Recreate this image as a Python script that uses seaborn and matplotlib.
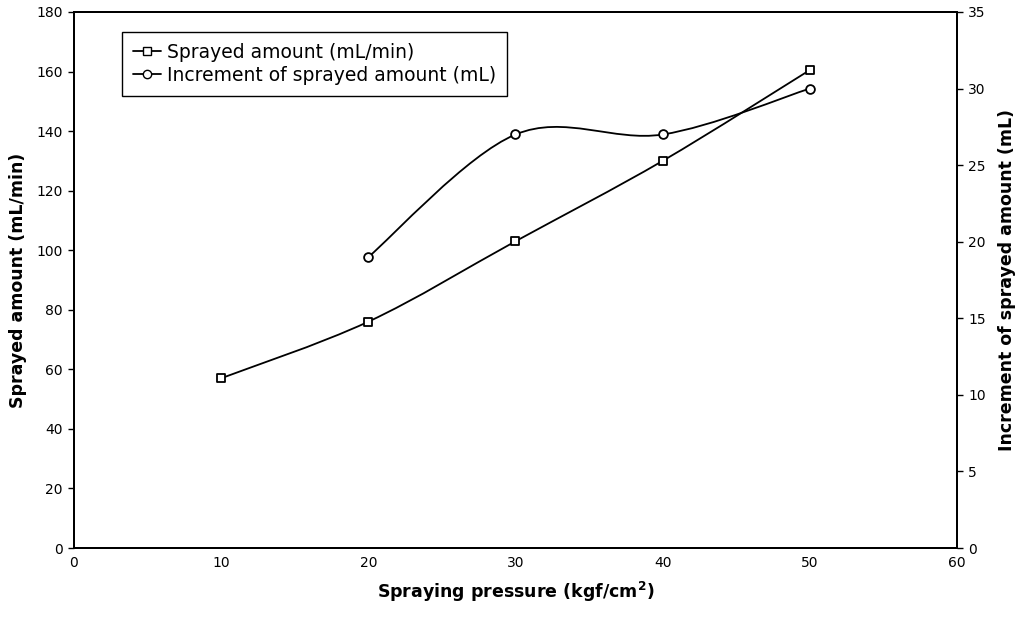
import numpy as np
import pandas as pd
import matplotlib
matplotlib.use("Agg")
import matplotlib.pyplot as plt
import seaborn as sns
from matplotlib.path import Path
from matplotlib.patches import PathPatch
from matplotlib.lines import Line2D

# =====================================
# DATA
# =====================================

pressure = [10, 20, 30, 40, 50]
sprayed = [57, 76, 103, 130, 160.5]

pressure_inc = [20, 30, 40, 50]
increment = [19, 27, 27, 30]

x_ticks = [0, 10, 20, 30, 40, 50, 60]
left_ticks = [0, 20, 40, 60, 80, 100, 120, 140, 160, 180]
right_ticks = [0, 5, 10, 15, 20, 25, 30, 35]

label_sprayed = "Sprayed amount (mL/min)"
label_increment = "Increment of sprayed amount (mL)"


# =====================================
# STYLE
# =====================================

sns.set_style("white")
plt.rcParams["font.family"] = ["DejaVu Sans"]
plt.rcParams["text.color"] = "black"
plt.rcParams["axes.labelcolor"] = "black"
plt.rcParams["mathtext.default"] = "regular"


def smooth_path(xs, ys):
    # excel-like smoothed line: cubic bezier through the points
    pts = np.column_stack([xs, ys]).astype(float)
    n = len(pts)
    verts = [pts[0]]
    codes = [Path.MOVETO]
    for i in range(n - 1):
        p0 = pts[i - 1] if i > 0 else pts[i]
        p1 = pts[i]
        p2 = pts[i + 1]
        p3 = pts[i + 2] if i + 2 < n else pts[i + 1]
        c1 = p1 + (p2 - p0) / 6
        c2 = p2 - (p3 - p1) / 6
        verts += [c1, c2, p2]
        codes += [Path.CURVE4] * 3
    return Path(verts, codes)


fig = plt.figure(figsize=(10.23, 6.17), dpi=100)
ax = fig.add_axes([0.0723, 0.1118, 0.8632, 0.8688])
ax2 = ax.twinx()

df1 = pd.DataFrame({"pressure": pressure, "value": sprayed})
df2 = pd.DataFrame({"pressure": pressure_inc, "value": increment})

ax.add_patch(PathPatch(smooth_path(pressure, sprayed), fill=False,
                       edgecolor="black", lw=1.3, zorder=2))
ax2.add_patch(PathPatch(smooth_path(pressure_inc, increment), fill=False,
                        edgecolor="black", lw=1.3, zorder=2))

sns.scatterplot(data=df1, x="pressure", y="value", ax=ax, marker="s",
                s=40, facecolor="white", edgecolor="black", linewidth=1.3,
                zorder=3)
sns.scatterplot(data=df2, x="pressure", y="value", ax=ax2, marker="o",
                s=40, facecolor="white", edgecolor="black", linewidth=1.3,
                zorder=3)

ax.set_xlim(0, 60)
ax.set_ylim(0, 180)
ax2.set_ylim(0, 35)
ax.set_xticks(x_ticks)
ax.set_yticks(left_ticks)
ax2.set_yticks(right_ticks)

for a in (ax, ax2):
    for s in a.spines.values():
        s.set_visible(True)
        s.set_color("black")
        s.set_linewidth(1.4)

ax.tick_params(axis="x", direction="in", length=4, width=1, colors="black",
               labelsize=10, pad=6)
ax.tick_params(axis="y", direction="out", length=4, width=1, colors="black",
               labelsize=10, pad=4, left=True)
ax2.tick_params(axis="y", direction="out", length=4, width=1, colors="black",
                labelsize=10, pad=4, right=True)

ax.set_xlabel("Spraying pressure (kgf/cm$^2$)", fontsize=12.5,
              fontweight="bold", labelpad=7)
ax.set_ylabel(label_sprayed, fontsize=12.5, fontweight="bold", labelpad=7)
ax2.set_ylabel(label_increment, fontsize=12.5, fontweight="bold", labelpad=9)

handles = [
    Line2D([], [], color="black", lw=1.3, marker="s", markersize=6,
           markerfacecolor="white", markeredgecolor="black"),
    Line2D([], [], color="black", lw=1.3, marker="o", markersize=6,
           markerfacecolor="white", markeredgecolor="black"),
]
leg = ax2.legend(handles, [label_sprayed, label_increment],
                 loc="upper left", bbox_to_anchor=(0.054, 0.963),
                 borderaxespad=0, fontsize=13.5, frameon=True, fancybox=False,
                 shadow=False, handlelength=1.5, handletextpad=0.3,
                 borderpad=0.6, labelspacing=0.2)
leg.get_frame().set_edgecolor("black")
leg.get_frame().set_linewidth(1.0)
leg.get_frame().set_alpha(1)

fig.savefig("out.png", dpi=100)
